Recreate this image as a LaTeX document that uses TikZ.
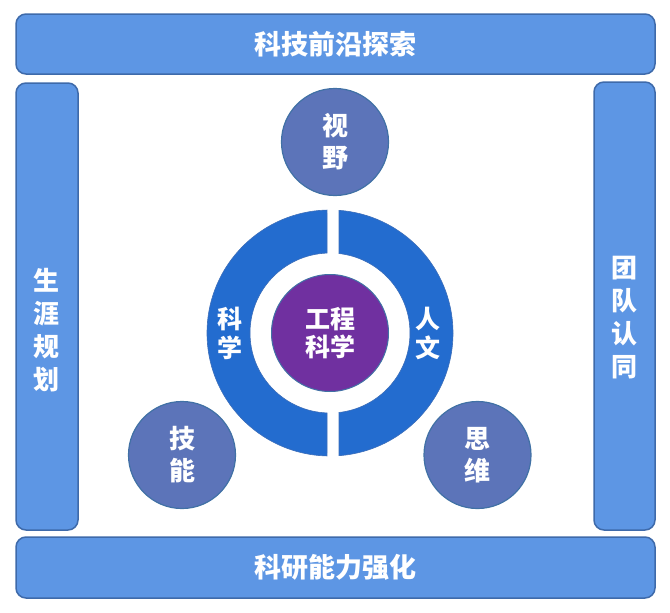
\documentclass[tikz,border=0pt]{standalone}
\usepackage{fontspec}
\setmainfont{Noto Sans CJK SC}
\usetikzlibrary{calc}
\definecolor{barblue}{RGB}{93,150,228}
\definecolor{barline}{RGB}{62,106,170}
\definecolor{ringblue}{RGB}{35,108,207}
\definecolor{ringline}{RGB}{60,110,185}
\definecolor{circblue}{RGB}{92,116,185}
\definecolor{circline}{RGB}{65,113,165}
\definecolor{purp}{RGB}{112,48,160}
\begin{document}
\begin{tikzpicture}[x=1pt,y=-1pt,
  bar/.style={draw=barline, line width=1.5pt, fill=barblue, rounded corners=10pt, inner sep=0pt},
  lbl/.style={text=white, font=\bfseries\fontsize{26}{32}\selectfont, align=center, inner sep=0pt},
  lblb/.style={text=white, font=\bfseries\fontsize{27}{32}\selectfont, align=center, inner sep=0pt},
  lblv/.style={text=white, font=\bfseries\fontsize{26}{33}\selectfont, align=center, inner sep=0pt},
  lbls/.style={text=white, font=\bfseries\fontsize{25}{29}\selectfont, align=center, inner sep=0pt},
  smallc/.style={circle, draw=circline, line width=1.2pt, fill=circblue, minimum size=107pt, inner sep=0pt},
  ringpart/.style={draw=ringline, line width=0.6pt, fill=ringblue}]
\useasboundingbox (0,0) rectangle (670,613);
% bars
\node[bar, minimum width=639pt, minimum height=60pt, lblb] (top) at (335.5,44) {科技前沿探索};
\node[bar, minimum width=639pt, minimum height=61pt, lblb] (bottom) at (335.5,567.5) {科研能力强化};
\node[bar, minimum width=62pt, minimum height=447pt] (left) at (47,306.5) {};
\node[bar, minimum width=61pt, minimum height=448pt] (right) at (624.5,306) {};
\node[lblv] (lefttxt) at (47,330) {生\\涯\\规\\划};
\node[lblv] (righttxt) at (624.5,318) {团\\队\\认\\同};
% ring halves
\coordinate (c) at (330,333);
\path[ringpart] (c) ++(91.4:123) arc[start angle=91.4, end angle=268.6, radius=123]
  -- ($(c)+(267.85:80)$) arc[start angle=267.85, end angle=92.15, radius=80] -- cycle;
\path[ringpart] (c) ++(85.8:123) arc[start angle=85.8, end angle=-85.8, radius=123]
  -- ($(c)+(-83.54:80)$) arc[start angle=-83.54, end angle=83.54, radius=80] -- cycle;
\node[lbls] (sci) at (230,333) {科\\学};
\node[lbls] (hum) at (428,333) {人\\文};
% center
\node[circle, draw=circline, line width=1pt, fill=purp, minimum size=117pt, inner sep=0pt, lbls, font=\bfseries\fontsize{25}{28}\selectfont] (core) at (330,333) {工程\\科学};
% small circles
\node[smallc, lbl] (view) at (335,142) {视\\野};
\node[smallc, lbl] (skill) at (182,455) {技\\能};
\node[smallc, lbl] (think) at (477.5,455) {思\\维};
\end{tikzpicture}
\end{document}
